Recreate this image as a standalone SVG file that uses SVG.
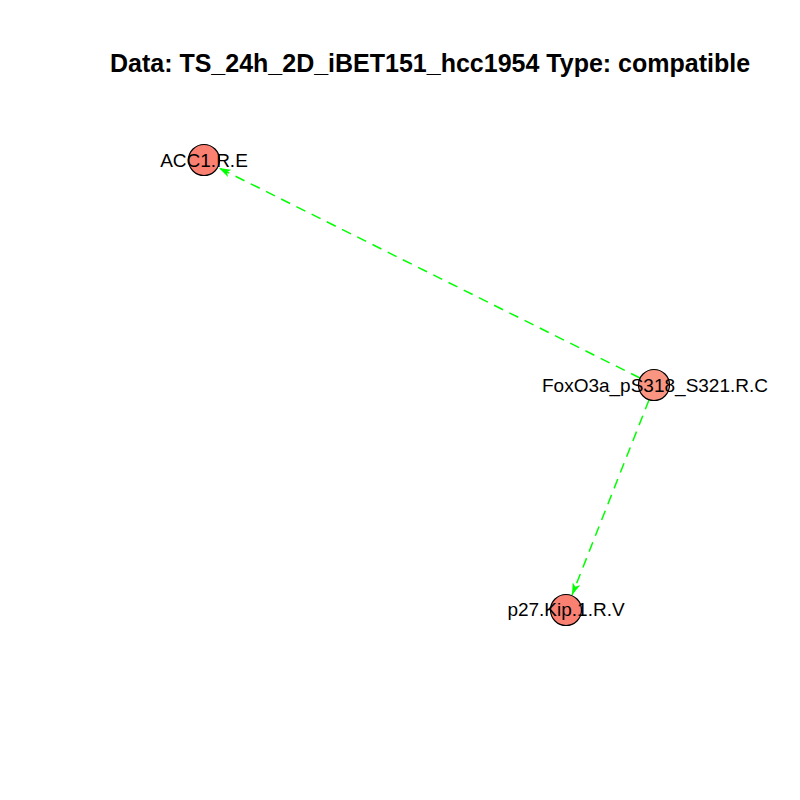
<svg xmlns="http://www.w3.org/2000/svg" width="800" height="800" viewBox="0 0 800 800">
<style>
.node{stroke:#000;stroke-width:1.2}
.lbl{font-family:"Liberation Sans",Arial,sans-serif;font-size:19px;text-anchor:middle;fill:#000}
.edge{stroke:#00FF00;stroke-width:1.5;stroke-dasharray:10,7;fill:none}
.title{font-family:"Liberation Sans",Arial,sans-serif;font-size:25px;font-weight:bold;text-anchor:middle;fill:#000}
</style>
<defs>
<marker id="arr" viewBox="0 0 12 8" refX="12" refY="4" markerWidth="12" markerHeight="8" markerUnits="userSpaceOnUse" orient="auto">
<path d="M0,0 L12,4 L0,8 L3,4 Z" fill="#00FF00"/>
</marker>
</defs>
<rect width="800" height="800" fill="#fff"/>
<text class="title" x="430" y="72">Data: TS_24h_2D_iBET151_hcc1954 Type: compatible</text>
<g id="connectors">
<line class="edge" x1="640" y1="378" x2="219" y2="168" marker-end="url(#arr)"/>
<line class="edge" x1="649" y1="400" x2="572" y2="595" marker-end="url(#arr)"/>
</g>
<g id="ACC1.R.E">
<circle class="node" cx="204" cy="160" r="15.5" fill="#FA8072"/>
<text class="lbl" x="204" y="167">ACC1.R.E</text>
</g>
<g id="FoxO3a_pS318_S321.R.C">
<circle class="node" cx="654" cy="385" r="15.5" fill="#FA9582"/>
<text class="lbl" x="655" y="392">FoxO3a_pS318_S321.R.C</text>
</g>
<g id="p27.Kip.1.R.V">
<circle class="node" cx="566" cy="610" r="15.5" fill="#FA8072"/>
<text class="lbl" x="566" y="616">p27.Kip.1.R.V</text>
</g>
</svg>
